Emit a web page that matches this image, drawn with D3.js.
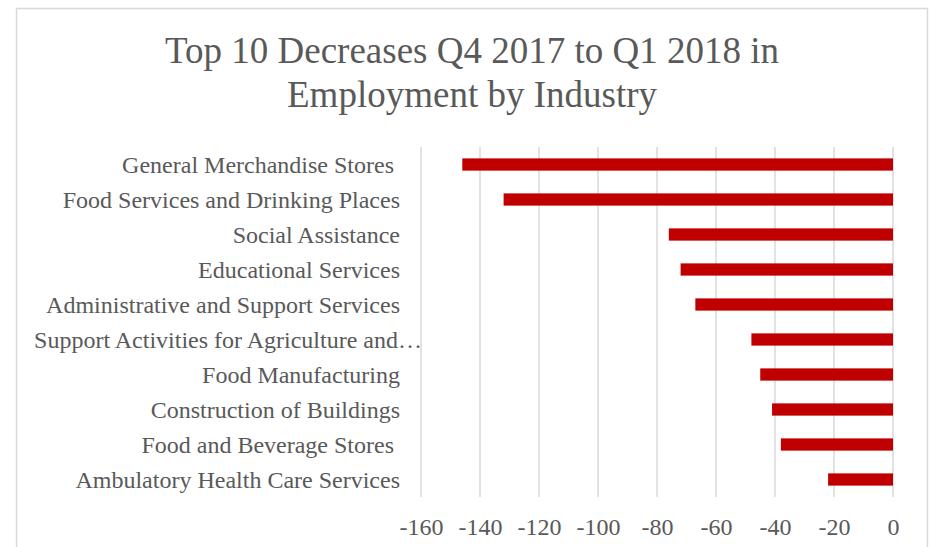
<!DOCTYPE html>
<html>
<head>
<meta charset="utf-8">
<script src="https://cdn.jsdelivr.net/npm/d3@7"></script>
<style>
  body { margin: 0; background: #fff; }
  svg text { font-family: "Liberation Serif", "Times New Roman", serif; fill: #595959; white-space: pre; }
</style>
</head>
<body>
<svg id="chart" width="932" height="547"></svg>
<script>
// categories, top to bottom
var industries = [
    "General Merchandise Stores ",
    "Food Services and Drinking Places",
    "Social Assistance",
    "Educational Services",
    "Administrative and Support Services",
    "Support Activities for Agriculture and\u2026",
    "Food Manufacturing",
    "Construction of Buildings",
    "Food and Beverage Stores ",
    "Ambulatory Health Care Services"
];
var changes = [-146, -132, -76, -72, -67, -48, -45, -41, -38, -22];
var tickValues = [-160, -140, -120, -100, -80, -60, -40, -20, 0];
var titleLines = ["Top 10 Decreases Q4 2017 to Q1 2018 in", "Employment by Industry"];

var svg = d3.select("#chart");

// chart border
svg.append("rect")
    .attr("x", 16.5).attr("y", 8.5)
    .attr("width", 911).attr("height", 560)
    .attr("fill", "none")
    .attr("stroke", "#d9d9d9")
    .attr("stroke-width", 1.5);

var x = d3.scaleLinear().domain([-160, 0]).range([421, 893]);
var y = d3.scaleBand().domain(industries).range([147, 497])
    .paddingInner(0.65).paddingOuter(0.325);

// title
svg.append("g").selectAll("text")
    .data(titleLines)
    .enter().append("text")
    .attr("x", 472)
    .attr("y", function(d, i) { return 63 + i * 44; })
    .attr("text-anchor", "middle")
    .style("font-size", "37px")
    .text(function(d) { return d; });

// gridlines
svg.append("g").selectAll("line")
    .data(tickValues)
    .enter().append("line")
    .attr("x1", function(d) { return x(d); })
    .attr("x2", function(d) { return x(d); })
    .attr("y1", 147).attr("y2", 497)
    .attr("stroke", "#d9d9d9")
    .attr("stroke-width", 1.5);

// bars
svg.append("g").selectAll("rect")
    .data(changes)
    .enter().append("rect")
    .attr("x", function(d) { return x(d); })
    .attr("width", function(d) { return x(0) - x(d); })
    .attr("y", function(d, i) { return y(industries[i]); })
    .attr("height", y.bandwidth())
    .attr("fill", "#c00000");

// x axis labels (plain hyphen like the original)
var xAxis = d3.axisBottom(x).tickValues(tickValues).tickSize(0).tickPadding(0)
    .tickFormat(function(d) { return String(d); });
var gx = svg.append("g")
    .attr("transform", "translate(0,518)")
    .call(xAxis);
gx.select(".domain").remove();
gx.selectAll("text")
    .attr("dy", "0.71em")
    .style("font-size", "24px")
    .style("font-family", "'Liberation Serif', serif")
    .attr("fill", "#595959");

// category labels
svg.append("g").selectAll("text")
    .data(industries)
    .enter().append("text")
    .attr("x", function(d, i) { return i == 5 ? 422 : 400; })
    .attr("y", function(d) { return y(d) + y.bandwidth() / 2; })
    .attr("dy", "0.35em")
    .attr("text-anchor", "end")
    .style("font-size", "24px")
    .text(function(d) { return d; });
</script>
</body>
</html>
